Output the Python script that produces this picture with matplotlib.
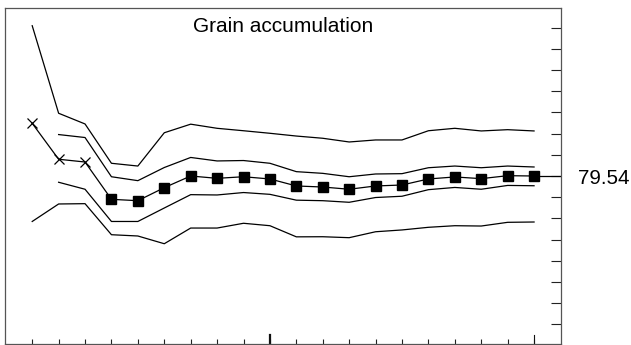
import matplotlib
matplotlib.use("Agg")
import matplotlib.pyplot as plt
import numpy as np

plt.rcParams['font.family'] = ['Liberation Sans', 'DejaVu Sans']

title = "Grain accumulation"
x = list(range(1, 21))
mean = [84.51, 81.12, 80.86, 77.34, 77.21, 78.44, 79.54, 79.32, 79.47, 79.26,
        78.60, 78.50, 78.29, 78.60, 78.69, 79.26, 79.45, 79.29, 79.57, 79.54]
upper_outer = [93.72, 85.46, 84.45, 80.74, 80.48, 83.62, 84.43, 84.04, 83.81, 83.57,
               83.31, 83.10, 82.75, 82.94, 82.94, 83.81, 84.04, 83.79, 83.91, 83.79]
upper_inner = [None, 83.45, 83.17, 79.47, 79.10, 80.34, 81.29, 80.96, 81.00, 80.74,
               79.95, 79.79, 79.47, 79.73, 79.76, 80.32, 80.48, 80.32, 80.48, 80.39]
lower_inner = [None, 78.95, 78.29, 75.25, 75.25, 76.52, 77.78, 77.75, 77.98, 77.81,
               77.26, 77.21, 77.06, 77.51, 77.63, 78.25, 78.46, 78.29, 78.65, 78.62]
lower_outer = [75.25, 76.90, 76.93, 74.00, 73.88, 73.15, 74.63, 74.63, 75.08, 74.85,
               73.80, 73.81, 73.72, 74.28, 74.45, 74.70, 74.85, 74.82, 75.17, 75.20]
n_cross = 3
target = 79.54
tick_step = 2.0
ytick_vals = [target + tick_step * k for k in range(-7, 8)]

fig = plt.figure(figsize=(6.31, 3.45), dpi=100)
ax = fig.add_axes([5 / 631, 1 / 345, 556 / 631, 336 / 345])

lw = 0.9
def plot_series(vals):
    xs = [xi for xi, v in zip(x, vals) if v is not None]
    ys = [v for v in vals if v is not None]
    ax.plot(xs, ys, color='black', lw=lw)

for s in (upper_outer, upper_inner, lower_inner, lower_outer):
    plot_series(s)

ax.plot(x, mean, color='black', lw=lw)
ax.plot(x[:n_cross], mean[:n_cross], linestyle='none', marker='x',
        markersize=7.5, markeredgewidth=0.9, color='black')
ax.plot(x[n_cross:], mean[n_cross:], linestyle='none', marker='s',
        markersize=7.2, color='black')

xlim = (-0.03, 21.02)
ax.plot([x[-1], xlim[1]], [target, target], color='black', lw=lw)

ax.set_xlim(*xlim)
ax.set_ylim(target - 15.85, target + 15.85)

ax.yaxis.tick_right()
ax.set_yticks(ytick_vals)
ax.set_yticklabels(['79.54' if abs(v - target) < 1e-9 else '' for v in ytick_vals])
ax.tick_params(axis='y', direction='in', length=7.4, width=0.8, pad=12.2,
               labelsize=14.8, colors='#222222', labelcolor='black')

ax.set_xticks(x)
ax.set_xticklabels([])
ax.tick_params(axis='x', direction='in', length=3.5, width=0.8, colors='#222222')
for t in ax.xaxis.get_major_ticks():
    pass
# longer ticks at 10 and 20
for xv, w in ((10, 1.6), (20, 0.8)):
    ax.plot([xv, xv], [0, 0.027], transform=ax.get_xaxis_transform(),
            color='#111111', lw=w, clip_on=False)

for sp in ax.spines.values():
    sp.set_color('#555555')
    sp.set_linewidth(0.9)

ax.text(0.5, 0.930, title, transform=ax.transAxes, ha='center', va='baseline',
        fontsize=15)

fig.savefig('out.png', dpi=100)
